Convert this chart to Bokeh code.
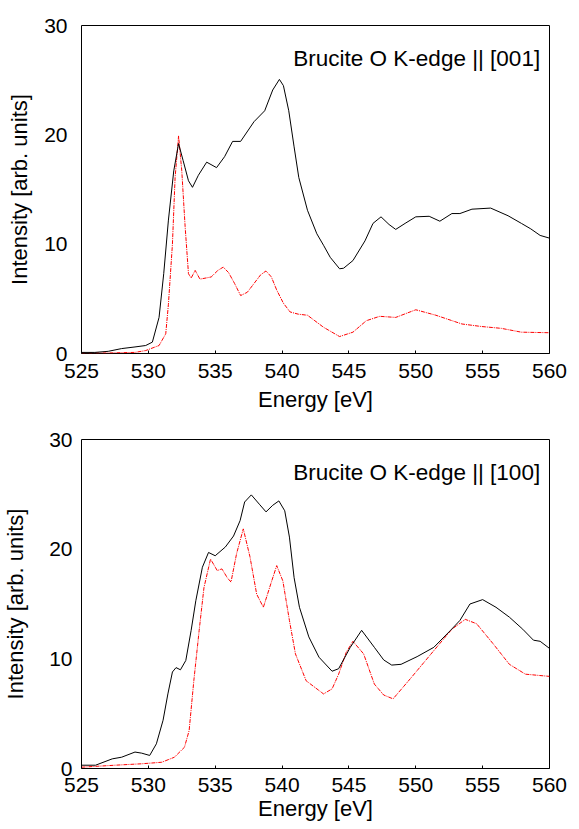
from bokeh.plotting import figure
from bokeh.layouts import column
from bokeh.models import Label, Range1d, FixedTicker
from bokeh.embed import file_html
from bokeh.resources import INLINE

# ---- data: top panel (|| [001]) ----
e_top_exp = [525, 526, 527, 528, 529, 529.8, 530.3, 530.8, 531.15, 531.5, 531.9, 532.26,
             532.6, 533.0, 533.3, 533.74, 534.36, 535.1, 535.7, 536.3, 536.9, 537.9,
             538.7, 539.3, 539.8, 540.1, 540.5, 540.9, 541.25, 541.9, 542.6, 543.1, 543.6,
             544.3, 544.6, 545.3, 546.2, 546.8, 547.4, 548.0, 548.5, 549.2, 550.0,
             551.0, 551.8, 552.7, 553.3, 554.2, 555.6, 556.9, 557.9, 558.6, 559.3, 560]
i_top_exp = [0.1, 0.1, 0.2, 0.45, 0.6, 0.73, 1.04, 3.3, 7.3, 12.2, 16.7, 19.2,
             17.65, 15.8, 15.2, 16.3, 17.5, 17.0, 18.0, 19.4, 19.4, 21.2,
             22.2, 24.1, 25.07, 24.5, 22.2, 18.9, 16.1, 13.1, 10.95, 9.9, 8.8,
             7.75, 7.8, 8.5, 10.3, 11.9, 12.5, 11.8, 11.35, 11.9, 12.5,
             12.55, 12.1, 12.8, 12.8, 13.2, 13.3, 12.6, 11.9, 11.4, 10.8, 10.55]

e_top_calc = [525, 527, 529, 529.8, 530.8, 531.3, 531.5, 531.8, 532.0, 532.26, 532.5,
              532.75, 533.0, 533.2, 533.5, 533.86, 534.7, 535.2, 535.6, 536.0, 536.45,
              536.9, 537.4, 537.9, 538.4, 538.8, 539.2, 539.6, 540.1, 540.6, 541.2,
              541.9, 543.1, 544.3, 545.3, 546.3, 547.3, 548.5, 550.0, 551.5, 553.45,
              554.9, 556.4, 557.9, 560]
i_top_calc = [0.05, 0.05, 0.1, 0.27, 0.73, 1.8, 4.5, 10.0, 16.1, 19.9, 16.7,
              11.6, 7.3, 6.9, 7.6, 6.8, 7.0, 7.6, 7.9, 7.4, 6.4,
              5.3, 5.6, 6.4, 7.2, 7.55, 7.0, 5.8, 4.6, 3.8, 3.6,
              3.5, 2.4, 1.55, 1.95, 3.0, 3.4, 3.3, 4.0, 3.5, 2.7,
              2.47, 2.3, 1.95, 1.9]

# ---- data: bottom panel (|| [100]) ----
e_bot_exp = [525, 526.05, 527.3, 528.0, 529.0, 529.5, 530.1, 530.6, 531.1, 531.46, 531.8,
             532.07, 532.4, 532.8, 533.2, 533.55, 534.04, 534.5, 535.0, 535.76, 536.37,
             536.86, 537.2, 537.7, 538.3, 538.8, 539.3, 539.76, 540.2, 540.55, 540.9,
             541.3, 542.0, 542.76, 543.74, 544.23, 545.1, 545.95, 546.9, 547.6, 548.2,
             548.9, 550.1, 551.35, 552.6, 553.3, 554.05, 555.0, 556.0, 557.0, 558.0,
             558.8, 559.3, 560]
i_bot_exp = [0.3, 0.3, 0.88, 1.03, 1.5, 1.4, 1.19, 2.25, 4.4, 6.8, 8.8,
             9.2, 9.0, 9.85, 12.6, 15.3, 18.35, 19.7, 19.4, 20.2, 21.2,
             22.6, 24.3, 24.95, 24.1, 23.4, 24.0, 24.4, 23.5, 21.1, 17.4,
             14.7, 12.0, 10.15, 8.87, 9.1, 11.05, 12.6, 11.05, 9.9, 9.43,
             9.5, 10.2, 11.05, 12.6, 13.5, 15.0, 15.4, 14.7, 13.8, 12.7,
             11.7, 11.6, 10.95]

e_bot_calc = [525, 527.5, 529.5, 531.0, 531.95, 532.7, 533.05, 533.4, 533.8, 534.16,
              534.65, 535.15, 535.5, 535.9, 536.18, 536.6, 537.1, 537.6, 538.1, 538.6,
              539.2, 539.6, 540.06, 540.55, 541.0, 541.8, 543.1, 543.74, 544.23, 544.8,
              545.3, 546.1, 546.9, 547.6, 548.3, 549.6, 551.35, 552.7, 553.7, 554.55,
              555.8, 557.0, 558.2, 560]
i_bot_calc = [0.12, 0.3, 0.43, 0.57, 1.03, 1.94, 3.46, 8.0, 12.6, 16.5,
              19.1, 18.05, 18.2, 17.4, 17.0, 19.6, 21.85, 19.3, 15.9, 14.7,
              17.0, 18.5, 17.1, 13.5, 10.45, 8.0, 6.8, 7.26, 8.6, 10.6,
              11.6, 10.45, 7.7, 6.7, 6.35, 8.2, 10.75, 12.7, 13.6, 13.2,
              11.35, 9.5, 8.6, 8.4]

x_ticks = [525, 530, 535, 540, 545, 550, 555, 560]
y_ticks = [0, 10, 20, 30]
titles = ["Brucite O K-edge || [001]", "Brucite O K-edge || [100]"]
x_label = "Energy [eV]"
y_label = "Intensity [arb. units]"

FONT = "Liberation Sans"


def make_panel(e_exp, i_exp, e_calc, i_calc, title, width, height, bl, br, bt, bb,
               lab_standoff, axlab_standoff, xlab_standoff, xaxlab_standoff):
    p = figure(width=width, height=height, output_backend="svg", toolbar_location=None,
               x_range=Range1d(525, 560), y_range=Range1d(0, 30),
               min_border_left=bl, min_border_right=br, min_border_top=bt,
               min_border_bottom=bb)
    p.grid.visible = False
    p.outline_line_color = "black"
    p.outline_line_width = 1
    p.outline_line_alpha = 1
    p.background_fill_color = "white"
    p.border_fill_color = "white"
    p.line(e_calc, i_calc, color="#ff0000", line_width=1, line_dash="4 1 1 1",
           line_join="round")
    p.line(e_exp, i_exp, color="black", line_width=1, line_join="round")
    for ax in (p.xaxis[0], p.yaxis[0]):
        ax.axis_line_color = None
        ax.minor_tick_line_color = None
        ax.major_label_text_font = FONT
        ax.major_label_text_font_size = "21px"
        ax.major_label_text_color = "black"
        ax.axis_label_text_font = FONT
        ax.axis_label_text_font_size = "22px"
        ax.axis_label_text_font_style = "normal"
        ax.axis_label_text_color = "black"
    p.xaxis.major_tick_line_color = "black"
    p.xaxis.major_tick_in = 3
    p.xaxis.major_tick_out = 0
    p.yaxis.major_tick_line_color = None
    p.xaxis.ticker = FixedTicker(ticks=x_ticks)
    p.yaxis.ticker = FixedTicker(ticks=y_ticks)
    p.xaxis.axis_label = x_label
    p.yaxis.axis_label = y_label
    p.xaxis.major_label_standoff = xlab_standoff
    p.xaxis.axis_label_standoff = xaxlab_standoff
    p.yaxis.major_label_standoff = lab_standoff
    p.yaxis.axis_label_standoff = axlab_standoff
    p.add_layout(Label(x=559.3, y=27.0, text=title, text_align="right",
                       text_baseline="middle", text_font=FONT,
                       text_font_size="22.5px", text_color="black"))
    return p


p1 = make_panel(e_top_exp, i_top_exp, e_top_calc, i_top_calc, titles[0],
                width=579, height=419, bl=75, br=30, bt=25, bb=66,
                lab_standoff=8, axlab_standoff=9, xlab_standoff=10, xaxlab_standoff=6)
p2 = make_panel(e_bot_exp, i_bot_exp, e_bot_calc, i_bot_calc, titles[1],
                width=579, height=410, bl=79, br=25, bt=20, bb=61,
                lab_standoff=3, axlab_standoff=18, xlab_standoff=9, xaxlab_standoff=1)

layout = column(p1, p2, spacing=0)

open("out.html", "w").write(file_html(layout, INLINE))
